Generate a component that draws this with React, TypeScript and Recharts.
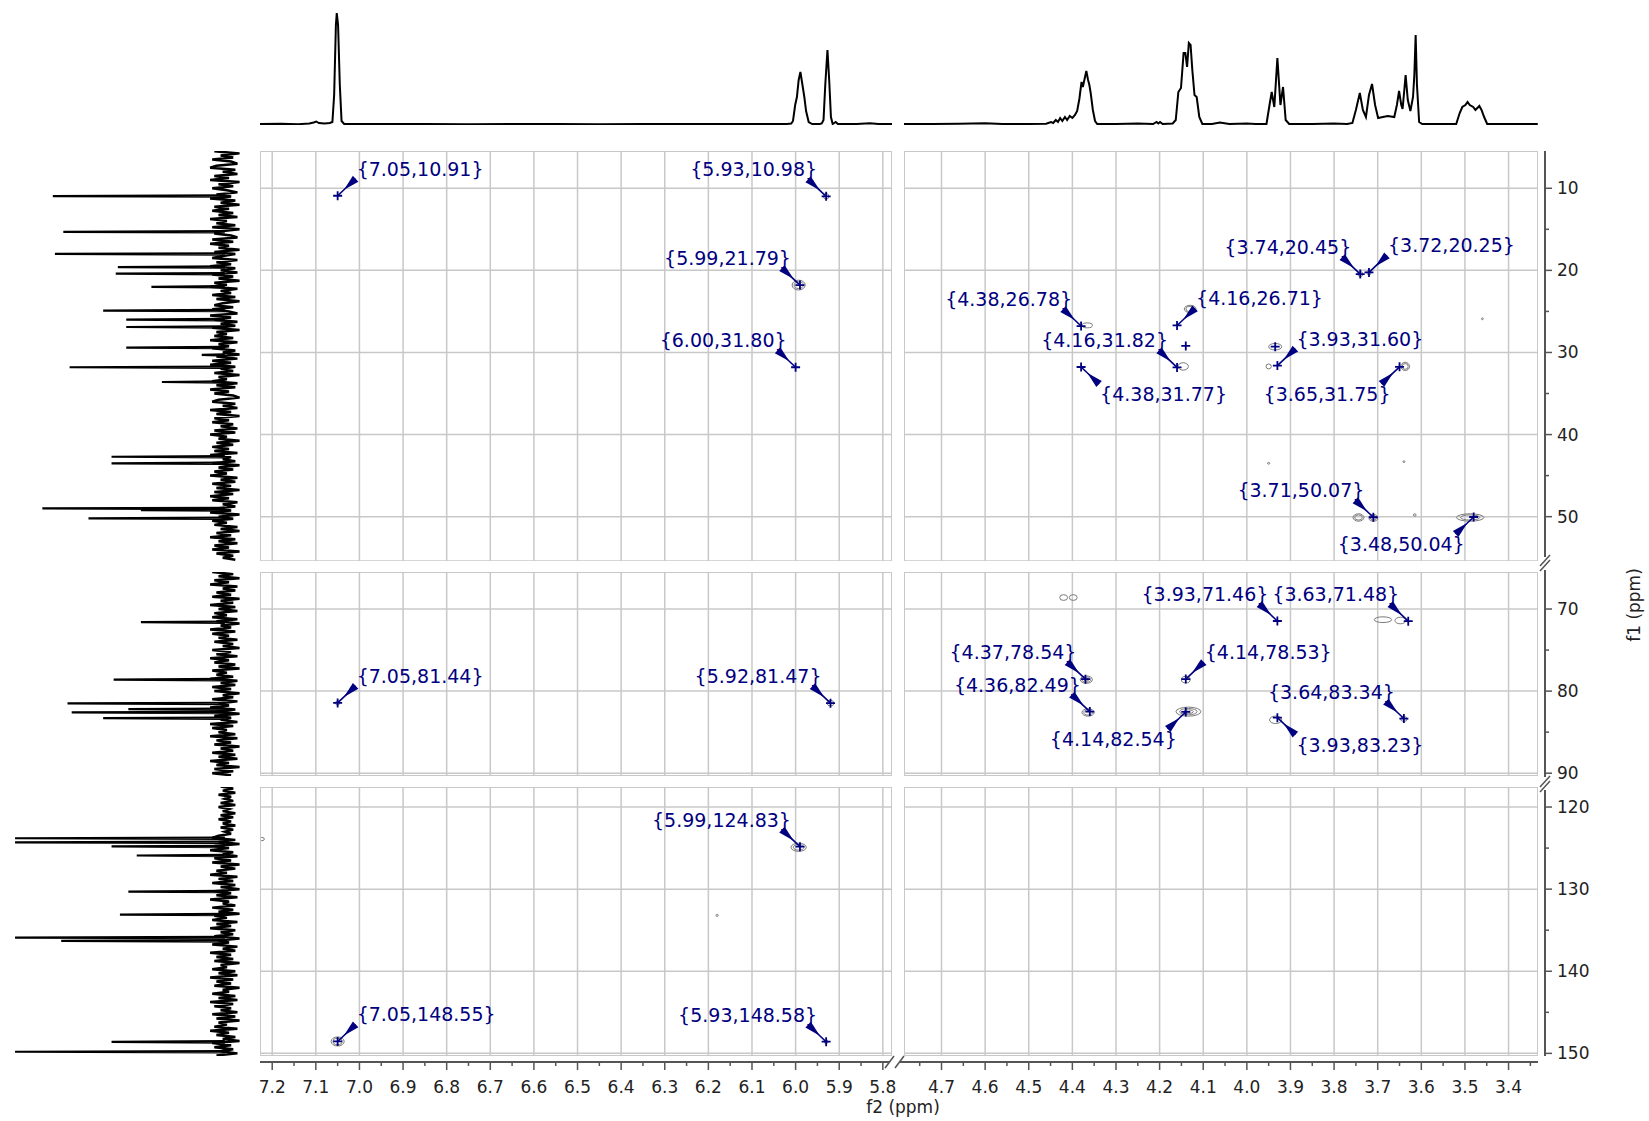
import React from "react";
import { LineChart, Line, ScatterChart, Scatter, XAxis, YAxis, CartesianGrid } from "recharts";

// ---- 1H projection (f2 ppm, intensity) ----
const protonLeft: [number, number][] = [
  [7.228, 1], [7.18, 1.3], [7.14, 0.8], [7.115, 1.5], [7.105, 2.5], [7.099, 3.5], [7.093, 2], [7.08, 1.5],
  [7.068, 2], [7.062, 3], [7.058, 30], [7.054, 100], [7.052, 112], [7.049, 100], [7.045, 40], [7.041, 4],
  [7.035, 1], [6.95, 1], [6.85, 1], [6.75, 0.8], [6.65, 1], [6.55, 1], [6.45, 0.8], [6.35, 1], [6.25, 1],
  [6.15, 1], [6.06, 1], [6.02, 1], [6.01, 1.5], [6.006, 4], [6.001, 20], [5.997, 28], [5.993, 45],
  [5.989, 53], [5.985, 42], [5.98, 28], [5.976, 14], [5.97, 3], [5.962, 1], [5.945, 1], [5.94, 1.5],
  [5.936, 5], [5.932, 40], [5.927, 75], [5.923, 45], [5.919, 8], [5.915, 1], [5.908, 3], [5.903, 1],
  [5.86, 1], [5.83, 1.8], [5.81, 1], [5.779, 1],
];
const protonRight: [number, number][] = [
  [4.786, 1], [4.72, 1], [4.66, 1.2], [4.6, 1.8], [4.56, 1], [4.5, 1], [4.46, 1.2], [4.449, 3], [4.444, 2],
  [4.438, 5], [4.433, 3], [4.428, 7], [4.423, 4], [4.417, 8], [4.412, 5], [4.406, 9], [4.4, 7], [4.394, 10],
  [4.389, 14], [4.384, 26], [4.379, 43], [4.376, 38], [4.373, 44], [4.368, 54], [4.364, 45], [4.361, 40],
  [4.358, 32], [4.353, 15], [4.348, 4], [4.343, 1], [4.3, 1], [4.25, 1.5], [4.215, 1], [4.207, 3],
  [4.203, 1.5], [4.199, 3], [4.193, 1], [4.17, 1.5], [4.163, 5], [4.157, 33], [4.151, 37], [4.145, 72],
  [4.141, 72], [4.137, 58], [4.133, 82], [4.129, 80], [4.125, 55], [4.12, 30], [4.115, 28], [4.109, 8],
  [4.102, 1], [4.08, 1], [4.062, 2.5], [4.04, 1], [4.0, 1.5], [3.98, 1], [3.955, 1], [3.948, 20],
  [3.943, 33], [3.937, 18], [3.93, 67], [3.923, 20], [3.917, 38], [3.911, 5], [3.903, 1], [3.85, 1],
  [3.8, 1.5], [3.77, 1], [3.758, 2], [3.75, 15], [3.741, 32], [3.734, 15], [3.727, 8], [3.72, 30],
  [3.713, 41], [3.706, 20], [3.699, 7], [3.688, 8], [3.677, 9], [3.662, 8], [3.656, 20], [3.651, 34],
  [3.646, 20], [3.643, 16], [3.639, 35], [3.636, 50], [3.631, 25], [3.625, 14], [3.619, 28], [3.616, 50],
  [3.613, 90], [3.61, 40], [3.605, 3], [3.598, 1], [3.55, 1], [3.52, 1], [3.512, 12], [3.506, 18],
  [3.499, 20], [3.494, 23], [3.489, 20], [3.481, 18], [3.476, 15], [3.467, 19], [3.462, 15], [3.456, 8],
  [3.449, 1], [3.44, 1], [3.4, 1], [3.333, 1],
];

// ---- 13C projection: baseline noise sampled every 0.25 ppm, plus peaks (f1 ppm, intensity) ----
const carbonNoiseA = [
  5, -7, 2, -4, 6, -3, -6, 4, 7, -5, 1, -6, 5, -2, 7, -7, 3, -4, 6, -1,
  -6, 4, -3, 7, -5, 2, -7, 5, -2, 6, -4, 3, -6, 7, -1, 4, -5, 6, -7, 2,
  5, -3, -6, 6, -4, 7, -2, 3, -7, 5, -5, 1, 6, -6, 4, -3, 7, -5, 2, -6,
  6, -4, 3, -7, 5, -1, 7, -6, 2, -3, 6, -5, 4, -7, 1, 5, -4, 6, -2, -6,
  7, -3, 5, -6, 2, -5, 6, -7, 4, -1, 5, -4, 7, -6, 3, -2, 6, -5, 1, -7,
  4, -6, 6, -3, 7, -5, 2, -4, 5, -7, 3, -1, 6, -6, 4, -5, 7, -2, 5, -4,
  -7, 3, 6, -5, 1, -6, 7, -3, 4, -7, 5, -2, 6, -4, 2, -6, 5, -5, 7, -1,
  3, -7, 4, -4, 6, -2, 5, -6, 7, -3, 1, -5, 6, -7, 3, -4, 5, -1, 7, -6,
  2, -5, 6, -3, 4, -7, 5, -4, 7, -2, 6, -6, 1, -5, 4, -3, 7, -7, 3, -4,
  6, -1, 5, -6, 2, -7, 4, -3, 7, -5, 3, -6, 5, -2, 6, -7, 4, -4, 1, -5,
];
const carbonNoiseB = [
  6, -4, 3, -7, 5, -2, 7, -6, 1, -5, 4, -3, 6, -7, 2, -4, 7, -5, 3, -6,
  5, -1, 6, -6, 4, -7, 2, -3, 7, -5, 6, -2, 3, -6, 5, -4, 1, -7, 6, -3,
  4, -6, 7, -2, 5, -5, 3, -7, 6, -1, 4, -4, 7, -6, 2, -5, 6, -3, 5, -7,
  1, -4, 6, -6, 3, -2, 7, -5, 4, -7, 5, -3, 2, -6, 7, -4, 6, -1, 3, -5,
  7, -6, 4, -3, 5, -7, 2, -4, 6, -5, 3, -6, 7, -2, 4, -7, 5, -4, 6, -3,
];
const carbonNoiseC = [
  2, -4, 1, -5, 3, -3, 0, -4, 2, -5, 3, -2, 1, -5, 2, -4, 3, -3, 1, -5, 2, -4, 0, -3, 3,
  6, -5, 3, -7, 5, -2, 7, -4, 1, -6, 5, -3, 6, -7, 2, -5, 4, -1, 7, -6,
  3, -4, 6, -5, 2, -7, 5, -3, 4, -6, 7, -2, 1, -5, 6, -4, 3, -7, 5, -1,
  6, -6, 4, -3, 7, -5, 2, -4, 5, -7, 3, -2, 6, -6, 1, -5, 7, -3, 4, -4,
  5, -7, 2, -1, 6, -5, 3, -6, 7, -4, 4, -3, 5, -7, 1, -2, 6, -5, 3, -6,
  7, -4, 5, -3, 2, -6, 6, -5, 4, -7, 3, -1, 5, -6, 7, -2, 4, -5, 1, -7,
  6, -3, 5, -4, 2, -6, 4,
];
const carbonNoiseStart = [5.5, 65.5, 117.5];
const carbonNoiseStep = 0.25;
const carbonPeaks: [number, number][] = [
  [10.95, 82], [15.3, 77], [18.0, 81], [19.6, 51], [20.4, 52], [22.0, 35], [24.9, 58], [26.0, 47],
  [26.9, 47], [29.4, 47], [30.3, 11], [31.8, 74], [33.6, 30], [42.7, 54], [43.5, 54], [49.0, 87],
  [49.2, 40], [50.2, 65],
  [71.6, 40], [78.6, 53], [81.5, 75], [82.2, 46], [82.6, 73], [83.3, 58],
  [123.8, 100], [124.3, 100], [124.8, 54], [125.9, 42], [130.3, 46], [133.1, 50], [135.9, 100],
  [136.3, 78], [148.6, 54], [149.8, 100],
];

// ---- HSQC cross peaks (f2, f1) ----
const crossPeaks: [number, number][] = [
  [7.05, 10.91], [5.93, 10.98], [5.99, 21.79], [6.0, 31.8],
  [3.74, 20.45], [3.72, 20.25], [4.38, 26.78], [4.16, 26.71], [4.16, 31.82], [3.93, 31.6],
  [4.38, 31.77], [3.65, 31.75], [3.71, 50.07], [3.48, 50.04],
  [7.05, 81.44], [5.92, 81.47], [3.93, 71.46], [3.63, 71.48], [4.37, 78.54], [4.14, 78.53],
  [4.36, 82.49], [4.14, 82.54], [3.64, 83.34], [3.93, 83.23],
  [5.99, 124.83], [7.05, 148.55], [5.93, 148.58],
];
const unlabeledPeaks: [number, number][] = [[4.14, 29.2], [3.935, 29.3]];

// contour blobs: f2, f1, f2 width (ppm), f1 width (ppm), levels
const contours: [number, number, number, number, number][] = [
  [5.93, 10.98, 0.012, 0.7, 1], [5.993, 21.79, 0.03, 1.2, 2], [4.366, 26.7, 0.024, 0.6, 1],
  [4.13, 24.7, 0.027, 0.9, 2], [4.146, 31.7, 0.024, 0.9, 1], [3.935, 29.3, 0.03, 0.8, 1],
  [3.95, 31.7, 0.012, 0.6, 1], [3.637, 31.7, 0.02, 1.0, 2], [3.74, 20.45, 0.012, 0.6, 1],
  [3.72, 20.25, 0.01, 0.6, 1], [3.744, 50.1, 0.025, 0.9, 2], [3.71, 50.15, 0.02, 0.8, 2],
  [3.488, 50.1, 0.063, 0.9, 2], [3.46, 25.9, 0.004, 0.2, 1], [3.95, 43.5, 0.005, 0.2, 1],
  [3.64, 43.3, 0.004, 0.2, 1], [3.615, 49.8, 0.006, 0.3, 1],
  [4.42, 68.6, 0.018, 0.7, 1], [4.398, 68.6, 0.018, 0.7, 1], [3.688, 71.3, 0.04, 0.7, 1],
  [3.648, 71.4, 0.025, 0.8, 1], [4.368, 78.6, 0.028, 0.9, 3], [4.14, 78.6, 0.02, 0.8, 1],
  [4.364, 82.6, 0.028, 0.9, 2], [4.134, 82.5, 0.057, 1.1, 3], [3.934, 83.5, 0.028, 0.9, 1],
  [3.64, 83.4, 0.015, 0.6, 1], [7.05, 81.44, 0.01, 0.5, 1], [5.92, 81.47, 0.015, 0.7, 1],
  [5.993, 124.9, 0.035, 1.0, 2], [7.05, 148.55, 0.03, 1.1, 2], [5.93, 148.58, 0.008, 0.5, 1],
  [6.18, 133.2, 0.005, 0.25, 1], [7.224, 123.9, 0.012, 0.4, 1],
];

// ---- axis ticks and grid ----
const f2TicksLeft = [
  7.2, 7.15, 7.1, 7.05, 7.0, 6.95, 6.9, 6.85, 6.8, 6.75, 6.7, 6.65, 6.6, 6.55, 6.5, 6.45, 6.4,
  6.35, 6.3, 6.25, 6.2, 6.15, 6.1, 6.05, 6.0, 5.95, 5.9, 5.85, 5.8,
];
const f2TicksRight = [
  4.75, 4.7, 4.65, 4.6, 4.55, 4.5, 4.45, 4.4, 4.35, 4.3, 4.25, 4.2, 4.15, 4.1, 4.05, 4.0, 3.95,
  3.9, 3.85, 3.8, 3.75, 3.7, 3.65, 3.6, 3.55, 3.5, 3.45, 3.4, 3.35,
];
const f2GridLeft = [7.2, 7.1, 7.0, 6.9, 6.8, 6.7, 6.6, 6.5, 6.4, 6.3, 6.2, 6.1, 6.0, 5.9, 5.8];
const f2GridRight = [4.7, 4.6, 4.5, 4.4, 4.3, 4.2, 4.1, 4.0, 3.9, 3.8, 3.7, 3.6, 3.5, 3.4];
const f1TicksA = [10, 15, 20, 25, 30, 35, 40, 45, 50];
const f1TicksB = [70, 75, 80, 85, 90];
const f1TicksC = [120, 125, 130, 135, 140, 145, 150];
const f1GridA = [10, 20, 30, 40, 50];
const f1GridB = [70, 80, 90];
const f1GridC = [120, 130, 140, 150];

// label corner for each cross peak: u/l = above/below, l/r = left/right
const labelSide = [
  "ur", "ul", "ul", "ul",
  "ul", "ur", "ul", "ur", "ul", "ur", "lr", "ll", "ul", "ll",
  "ur", "ul", "ul", "ul", "ul", "ur", "ul", "ll", "ul", "lr",
  "ul", "ur", "ul",
];

// ---- layout ----
const FONT = "'DejaVu Sans', Verdana, sans-serif";
const NAVY = "#000080";
const GRID = "#c8c8c8";
const AXIS = "#555555";
const TICK_FONT = 17;
const LABEL_FONT = 19;

type Col = { x: number; w: number; domain: [number, number]; grid: number[]; ticks: number[]; proton: [number, number][] };
type Row = { y: number; h: number; domain: [number, number]; grid: number[]; ticks: number[]; noise: number[]; noiseStart: number; bottomBorder: boolean };

const COLS: Col[] = [
  { x: 260, w: 632, domain: [5.779, 7.228], grid: f2GridLeft, ticks: f2TicksLeft, proton: protonLeft },
  { x: 904, w: 634, domain: [3.3325, 4.786], grid: f2GridRight, ticks: f2TicksRight, proton: protonRight },
];
const ROWS: Row[] = [
  { y: 151, h: 410, domain: [5.46, 55.4], grid: f1GridA, ticks: f1TicksA, noise: carbonNoiseA, noiseStart: carbonNoiseStart[0], bottomBorder: false },
  { y: 572, h: 204, domain: [65.49, 90.34], grid: f1GridB, ticks: f1TicksB, noise: carbonNoiseB, noiseStart: carbonNoiseStart[1], bottomBorder: true },
  { y: 787, h: 269, domain: [117.56, 150.32], grid: f1GridC, ticks: f1TicksC, noise: carbonNoiseC, noiseStart: carbonNoiseStart[2], bottomBorder: true },
];
const RIGHT_AXIS_X = 1545;
const BOTTOM_AXIS_Y = 1062;

const inRange = (v: number, d: [number, number]) => v >= Math.min(d[0], d[1]) && v <= Math.max(d[0], d[1]);

function ProtonTrace({ col }: { col: Col }) {
  const data = col.proton.map(([x, y]) => ({ x, y }));
  return (
    <div style={{ position: "absolute", left: col.x, top: 8 }}>
      <LineChart width={col.w} height={122} data={data} margin={{ top: 5, right: 0, bottom: 5, left: 0 }}>
        <XAxis type="number" dataKey="x" domain={col.domain} reversed hide allowDataOverflow />
        <YAxis type="number" domain={[0, 112]} hide allowDataOverflow />
        <Line type="linear" dataKey="y" stroke="#000" strokeWidth={2} dot={false} isAnimationActive={false} />
      </LineChart>
    </div>
  );
}

function CarbonTrace({ row }: { row: Row }) {
  const noise = row.noise.map((v, i) => ({ x: v, y: row.noiseStart + i * carbonNoiseStep }));
  const spikes = carbonPeaks
    .filter(([f1]) => inRange(f1, row.domain))
    .map(([f1, inten]) => [
      { x: 0, y: f1 - 0.08 },
      { x: inten, y: f1 },
      { x: 0, y: f1 + 0.08 },
    ]);
  return (
    <div style={{ position: "absolute", left: 0, top: row.y }}>
      <ScatterChart width={250} height={row.h} margin={{ top: 0, right: 0, bottom: 0, left: 14 }}>
        <XAxis type="number" dataKey="x" domain={[-12, 100.5]} reversed hide allowDataOverflow />
        <YAxis type="number" dataKey="y" domain={row.domain} reversed hide allowDataOverflow />
        <Scatter
          data={noise}
          line={{ stroke: "#000", strokeWidth: 2.5 }}
          lineJointType="linear"
          shape={() => <g />}
          isAnimationActive={false}
        />
        {spikes.map((s, i) => (
          <Scatter
            key={i}
            data={s}
            line={{ stroke: "#000", strokeWidth: 2.2 }}
            lineJointType="linear"
            shape={() => <g />}
            isAnimationActive={false}
          />
        ))}
      </ScatterChart>
    </div>
  );
}

const PeakMark = (props: any) => {
  const { cx, cy, payload } = props;
  if (cx == null || cy == null) return <g />;
  const cross = (
    <path d={`M${cx - 4.5},${cy}H${cx + 4.5}M${cx},${cy - 4.5}V${cy + 4.5}`} stroke={NAVY} strokeWidth={1.8} />
  );
  if (!payload.side) return <g>{cross}</g>;
  const sx = payload.side[1] === "r" ? 1 : -1;
  const sy = payload.side[0] === "u" ? -1 : 1;
  const ax = cx + sx * 18;
  const ay = cy + sy * 17;
  const dx = cx - ax;
  const dy = cy - ay;
  const len = Math.hypot(dx, dy);
  const nx = -dy / len;
  const ny = dx / len;
  const w = 4;
  const tx = ax + dx * 0.65;
  const ty = ay + dy * 0.65;
  return (
    <g>
      <line x1={ax} y1={ay} x2={cx} y2={cy} stroke={NAVY} strokeWidth={1.6} />
      <polygon points={`${ax + nx * w},${ay + ny * w} ${ax - nx * w},${ay - ny * w} ${tx},${ty}`} fill={NAVY} />
      {cross}
      <text
        x={sx > 0 ? cx + 19 : cx - 9}
        y={cy + sy * 27}
        textAnchor={sx > 0 ? "start" : "end"}
        dominantBaseline="central"
        fill={NAVY}
        fontSize={LABEL_FONT}
        fontFamily={FONT}
      >
        {"{" + payload.x.toFixed(2) + "," + payload.y.toFixed(2) + "}"}
      </text>
    </g>
  );
};

function Panel({ row, col }: { row: Row; col: Col }) {
  const kx = col.w / Math.abs(col.domain[1] - col.domain[0]);
  const ky = row.h / Math.abs(row.domain[1] - row.domain[0]);
  const inside = (f2: number, f1: number) => inRange(f2, col.domain) && inRange(f1, row.domain);
  const peaks = crossPeaks
    .map(([x, y], i) => ({ x, y, side: labelSide[i] }))
    .filter((p) => inside(p.x, p.y))
    .concat(unlabeledPeaks.filter(([x, y]) => inside(x, y)).map(([x, y]) => ({ x, y, side: "" })));
  const blobs = contours.filter(([x, y]) => inside(x, y)).map(([x, y, w, h, n]) => ({ x, y, w, h, n }));
  const ContourShape = (props: any) => {
    const { cx, cy, payload } = props;
    if (cx == null || cy == null) return <g />;
    const rx = (payload.w * kx) / 2;
    const ry = (payload.h * ky) / 2;
    const rings = [];
    for (let i = 0; i < payload.n; i++) {
      const s = 1 - i * 0.3;
      rings.push(
        <ellipse key={i} cx={cx} cy={cy} rx={Math.max(rx * s, 0.9)} ry={Math.max(ry * s, 0.9)} fill="none" stroke="#7a7a7a" strokeWidth={1} />
      );
    }
    return <g>{rings}</g>;
  };
  return (
    <>
      <div style={{ position: "absolute", left: col.x, top: row.y }}>
        <ScatterChart width={col.w} height={row.h} margin={{ top: 0, right: 0, bottom: 0, left: 0 }}>
          <XAxis type="number" dataKey="x" domain={col.domain} ticks={col.grid} interval={0} reversed hide allowDataOverflow />
          <YAxis type="number" dataKey="y" domain={row.domain} ticks={row.grid} interval={0} reversed hide allowDataOverflow />
          <CartesianGrid stroke={GRID} strokeWidth={1.5} />
          <Scatter data={blobs} shape={ContourShape} isAnimationActive={false} />
          <Scatter data={peaks} shape={PeakMark} isAnimationActive={false} />
        </ScatterChart>
      </div>
      <div
        style={{
          position: "absolute",
          left: col.x,
          top: row.y,
          width: col.w,
          height: row.h,
          boxSizing: "border-box",
          borderTop: `1.5px solid ${GRID}`,
          borderLeft: `1.5px solid ${GRID}`,
          borderRight: `1.5px solid ${GRID}`,
          borderBottom: row.bottomBorder ? `1.5px solid ${GRID}` : "none",
          pointerEvents: "none",
        }}
      />
    </>
  );
}

const RightTick = (props: any) => {
  const { x, y, payload } = props;
  const v: number = payload.value;
  const major = v % 10 === 0;
  return (
    <g>
      <line x1={x} y1={y} x2={x + (major ? 7 : 4)} y2={y} stroke={AXIS} strokeWidth={1.5} />
      {major && (
        <text x={x + 12} y={y} dominantBaseline="central" fontSize={TICK_FONT} fill="#222" fontFamily={FONT}>
          {v}
        </text>
      )}
    </g>
  );
};

const BottomTick = (props: any) => {
  const { x, y, payload } = props;
  const v: number = payload.value;
  const major = Math.round(v * 20) % 2 === 0;
  return (
    <g>
      <line x1={x} y1={y} x2={x} y2={y + (major ? 8 : 4)} stroke={AXIS} strokeWidth={1.5} />
      {major && (
        <text x={x} y={y + 25} textAnchor="middle" dominantBaseline="central" fontSize={TICK_FONT} fill="#222" fontFamily={FONT}>
          {v.toFixed(1)}
        </text>
      )}
    </g>
  );
};

function RightAxis({ row }: { row: Row }) {
  return (
    <div style={{ position: "absolute", left: RIGHT_AXIS_X - 1, top: row.y - 12 }}>
      <ScatterChart width={100} height={row.h + 24} margin={{ top: 12, right: 0, bottom: 12, left: 0 }}>
        <XAxis type="number" dataKey="x" domain={[0, 1]} hide />
        <YAxis
          type="number"
          dataKey="y"
          orientation="right"
          domain={row.domain}
          reversed
          ticks={row.ticks}
          interval={0}
          width={99}
          axisLine={false}
          tickLine={false}
          tickSize={0}
          tickMargin={0}
          tick={RightTick}
          allowDataOverflow
        />
      </ScatterChart>
    </div>
  );
}

function BottomAxis({ col }: { col: Col }) {
  return (
    <div style={{ position: "absolute", left: col.x - 20, top: BOTTOM_AXIS_Y - 1 }}>
      <ScatterChart width={col.w + 40} height={46} margin={{ top: 0, right: 20, bottom: 0, left: 20 }}>
        <XAxis
          type="number"
          dataKey="x"
          domain={col.domain}
          reversed
          ticks={col.ticks}
          interval={0}
          height={45}
          axisLine={false}
          tickLine={false}
          tickSize={0}
          tickMargin={0}
          tick={BottomTick}
          allowDataOverflow
        />
        <YAxis type="number" dataKey="y" domain={[0, 1]} hide />
      </ScatterChart>
    </div>
  );
}

const vLine = (x: number, y1: number, y2: number) => (
  <div style={{ position: "absolute", left: x - 1, top: y1, width: 2, height: y2 - y1, background: AXIS }} />
);
const hLine = (y: number, x1: number, x2: number) => (
  <div style={{ position: "absolute", left: x1, top: y - 1, width: x2 - x1, height: 2, background: AXIS }} />
);

export default function App() {
  return (
    <div style={{ position: "relative", width: 1649, height: 1121, background: "#fff", overflow: "hidden", fontFamily: FONT }}>
      <style>{"body{margin:0}"}</style>
      {COLS.map((c, i) => (
        <ProtonTrace key={"p" + i} col={c} />
      ))}
      {ROWS.map((r, i) => (
        <CarbonTrace key={"c" + i} row={r} />
      ))}
      {ROWS.map((r, ri) => COLS.map((c, ci) => <Panel key={`g${ri}${ci}`} row={r} col={c} />))}
      {ROWS.map((r, i) => (
        <RightAxis key={"ra" + i} row={r} />
      ))}
      {COLS.map((c, i) => (
        <BottomAxis key={"ba" + i} col={c} />
      ))}
      {/* axis lines with break marks */}
      <div>
        {vLine(RIGHT_AXIS_X, 151, 557)}
        {vLine(RIGHT_AXIS_X, 570, 777)}
        {vLine(RIGHT_AXIS_X, 790, 1056)}
        {hLine(BOTTOM_AXIS_Y, 260, 890)}
        {hLine(BOTTOM_AXIS_Y, 900, 1538)}
      </div>
      <svg style={{ position: "absolute", left: 0, top: 0 }} width={1649} height={1121}>
        <g stroke={AXIS} strokeWidth={1.5}>
          <line x1={1540} y1={566} x2={1550} y2={555} />
          <line x1={1540} y1={571} x2={1550} y2={560} />
          <line x1={1540} y1={787} x2={1550} y2={776} />
          <line x1={1540} y1={792} x2={1550} y2={781} />
          <line x1={885} y1={1068} x2={894} y2={1056} />
          <line x1={895} y1={1068} x2={904} y2={1056} />
        </g>
      </svg>
      <div style={{ position: "absolute", left: 903, top: 1107, transform: "translate(-50%,-50%)", fontSize: TICK_FONT, color: "#222", whiteSpace: "nowrap" }}>
        f2 (ppm)
      </div>
      <div
        style={{
          position: "absolute",
          left: 1634,
          top: 605,
          transform: "translate(-50%,-50%) rotate(-90deg)",
          fontSize: TICK_FONT,
          color: "#222",
          whiteSpace: "nowrap",
        }}
      >
        f1 (ppm)
      </div>
    </div>
  );
}
